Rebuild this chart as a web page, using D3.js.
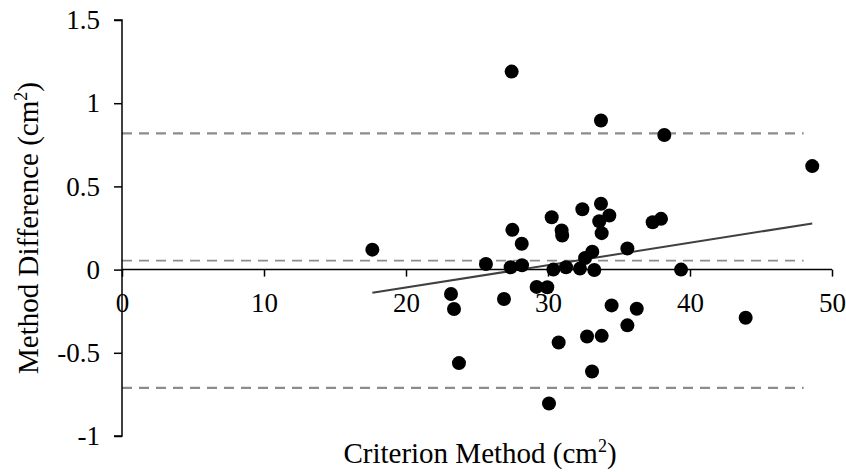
<!DOCTYPE html>
<html>
<head>
<meta charset="utf-8">
<script src="https://cdn.jsdelivr.net/npm/d3@7"></script>
<style>
  body { margin: 0; background: #fff; }
  svg { display: block; font-family: "Liberation Serif", "Times New Roman", serif; }
</style>
</head>
<body>
<svg id="chart" width="846" height="472"></svg>
<script>
// criterion method values (x) and method differences (y)
const criterion = [27.44, 33.73, 38.19, 48.61, 33.73, 32.42, 34.32, 30.26, 37.96, 37.37,
  33.61, 30.96, 31.0, 27.49, 33.78, 28.15, 35.59, 33.12, 32.61, 25.63,
  27.37, 28.17, 30.38, 31.27, 32.25, 33.26, 39.37, 29.2, 29.95, 17.63,
  23.17, 23.38, 26.9, 34.48, 36.25, 43.92, 35.59, 30.75, 32.75, 33.78,
  23.73, 33.1, 30.07];
const difference = [1.19, 0.896, 0.809, 0.622, 0.396, 0.363, 0.325, 0.315, 0.305, 0.285,
  0.291, 0.235, 0.205, 0.239, 0.219, 0.155, 0.127, 0.108, 0.07, 0.034,
  0.014, 0.026, 0.0, 0.014, 0.006, -0.002, 0.0, -0.104, -0.106, 0.12,
  -0.147, -0.237, -0.177, -0.215, -0.235, -0.289, -0.335, -0.438, -0.402, -0.398,
  -0.562, -0.612, -0.805];

// bias and limits of agreement, drawn out to x = 48
const limits = [0.819, 0.054, -0.711];
const limitEnd = 48;

// fitted trend line
const trendSlope = 0.01346;
const trendIntercept = -0.377;

const xTicks = [0, 10, 20, 30, 40, 50];
const yTicks = [-1, -0.5, 0, 0.5, 1, 1.5];

const svg = d3.select('#chart');
const tickFont = 27, titleFont = 29;

const x = d3.scaleLinear().domain([0, 50]).range([122, 832]);
const y = d3.scaleLinear().domain([-1, 1.5]).range([436, 20]);

// limit lines
svg.append('g').selectAll('line')
  .data(limits).enter()
  .append('line')
  .attr('x1', x(0))
  .attr('x2', x(limitEnd))
  .attr('y1', d => y(d))
  .attr('y2', d => y(d))
  .attr('stroke', '#8c8c8c')
  .attr('stroke-width', (d, i) => i == 1 ? 1.8 : 2.3)
  .attr('stroke-dasharray', '10,7');

// y axis
const yAxis = d3.axisLeft(y).tickValues(yTicks).tickSize(8).tickPadding(14)
  .tickFormat(d => String(d));
const gy = svg.append('g').attr('transform', 'translate(' + x(0) + ',0)').call(yAxis);
gy.select('.domain').attr('d', 'M-8,' + y(1.5) + 'H0V' + y(-1) + 'H-8')
  .attr('stroke-width', 1.5);
gy.selectAll('.tick line').attr('stroke-width', 1.5);
gy.selectAll('.tick text').attr('font-size', tickFont).attr('fill', '#000')
  .attr('font-family', '"Liberation Serif", serif');

// x axis crossing at y = 0
const xAxis = d3.axisBottom(x).tickValues(xTicks).tickSize(7).tickPadding(16);
const gx = svg.append('g').attr('transform', 'translate(0,' + y(0) + ')').call(xAxis);
gx.select('.domain').attr('d', 'M' + x(0) + ',0H' + x(50)).attr('stroke-width', 1.5);
gx.selectAll('.tick line').attr('stroke-width', 1.5);
gx.selectAll('.tick text').attr('font-size', tickFont).attr('fill', '#000')
  .attr('font-family', '"Liberation Serif", serif');

// trend line across the data range
const xExt = d3.extent(criterion);
svg.append('line')
  .attr('x1', x(xExt[0]))
  .attr('x2', x(xExt[1]))
  .attr('y1', y(trendIntercept + trendSlope * xExt[0]))
  .attr('y2', y(trendIntercept + trendSlope * xExt[1]))
  .attr('stroke', '#404040')
  .attr('stroke-width', 2);

// points
svg.append('g').selectAll('circle')
  .data(criterion).enter()
  .append('circle')
  .attr('cx', d => x(d))
  .attr('cy', (d, i) => y(difference[i]))
  .attr('r', 7)
  .attr('fill', '#000');

// axis titles
const yTitle = svg.append('text')
  .attr('transform', 'translate(38,' + ((y(1.5) + y(-1)) / 2) + ') rotate(-90)')
  .attr('text-anchor', 'middle')
  .attr('font-size', titleFont);
yTitle.append('tspan').text('Method Difference (cm');
yTitle.append('tspan').attr('font-size', 18).attr('dy', -11).text('2');
yTitle.append('tspan').attr('dy', 11).text(')');

const xTitle = svg.append('text')
  .attr('x', 480)
  .attr('y', 463)
  .attr('text-anchor', 'middle')
  .attr('font-size', titleFont);
xTitle.append('tspan').text('Criterion Method (cm');
xTitle.append('tspan').attr('font-size', 18).attr('dy', -11).text('2');
xTitle.append('tspan').attr('dy', 11).text(')');
</script>
</body>
</html>
